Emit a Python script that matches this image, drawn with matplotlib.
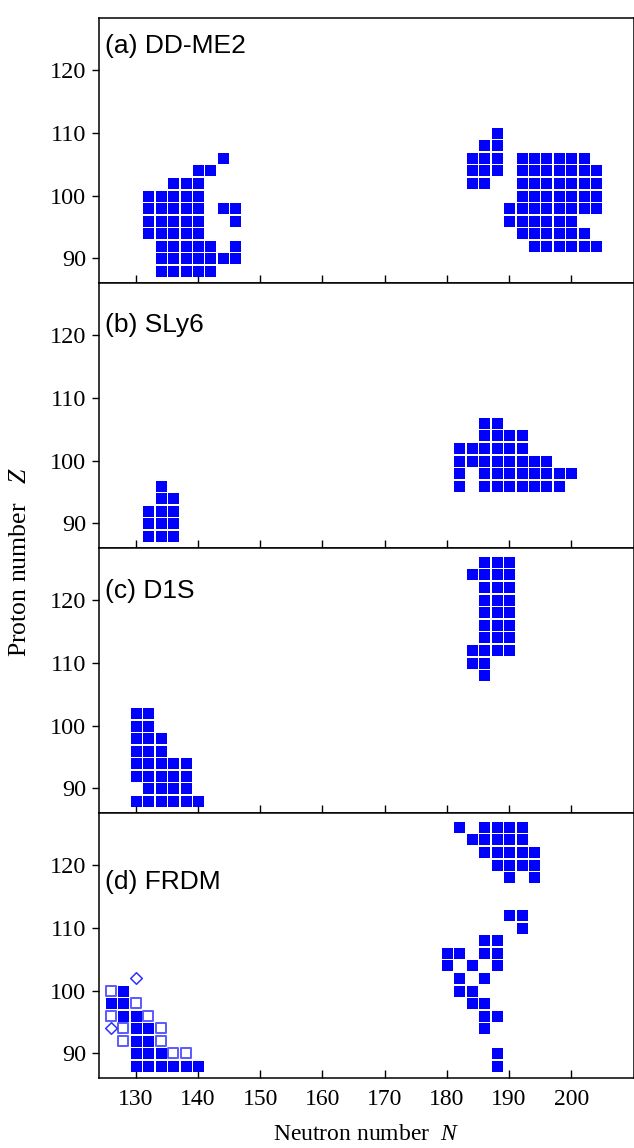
import matplotlib
matplotlib.use("Agg")
import matplotlib.pyplot as plt

# ---------------- data (N values per proton number Z) ----------------
panel_labels = ["(a) DD-ME2", "(b) SLy6", "(c) D1S", "(d) FRDM"]

ddme2_rows = {
    110: [188],
    108: [186, 188],
    106: [144, 184, 186, 188, 192, 194, 196, 198, 200, 202],
    104: [140, 142, 184, 186, 188, 192, 194, 196, 198, 200, 202, 204],
    102: [136, 138, 140, 184, 186, 192, 194, 196, 198, 200, 202, 204],
    100: [132, 134, 136, 138, 140, 192, 194, 196, 198, 200, 202, 204],
    98: [132, 134, 136, 138, 140, 144, 146, 190, 192, 194, 196, 198, 200, 202, 204],
    96: [132, 134, 136, 138, 140, 146, 190, 192, 194, 196, 198, 200],
    94: [132, 134, 136, 138, 140, 192, 194, 196, 198, 200, 202],
    92: [134, 136, 138, 140, 142, 146, 194, 196, 198, 200, 202, 204],
    90: [134, 136, 138, 140, 142, 144, 146],
    88: [134, 136, 138, 140, 142],
}

sly6_rows = {
    106: [186, 188],
    104: [186, 188, 190, 192],
    102: [182, 184, 186, 188, 190, 192],
    100: [182, 184, 186, 188, 190, 192, 194, 196],
    98: [182, 186, 188, 190, 192, 194, 196, 198, 200],
    96: [134, 182, 186, 188, 190, 192, 194, 196, 198],
    94: [134, 136],
    92: [132, 134, 136],
    90: [132, 134, 136],
    88: [132, 134, 136],
}

d1s_rows = {
    126: [186, 188, 190],
    124: [184, 186, 188, 190],
    122: [186, 188, 190],
    120: [186, 188, 190],
    118: [186, 188, 190],
    116: [186, 188, 190],
    114: [186, 188, 190],
    112: [184, 186, 188, 190],
    110: [184, 186],
    108: [186],
    102: [130, 132],
    100: [130, 132],
    98: [130, 132, 134],
    96: [130, 132, 134],
    94: [130, 132, 134, 136, 138],
    92: [130, 132, 134, 136, 138],
    90: [132, 134, 136, 138],
    88: [130, 132, 134, 136, 138, 140],
}

frdm_rows = {
    126: [182, 186, 188, 190, 192],
    124: [184, 186, 188, 190, 192],
    122: [186, 188, 190, 192, 194],
    120: [188, 190, 192, 194],
    118: [190, 194],
    112: [190, 192],
    110: [192],
    108: [186, 188],
    106: [180, 182, 186, 188],
    104: [180, 184, 188],
    102: [182, 186],
    100: [128, 182, 184],
    98: [126, 128, 184, 186],
    96: [128, 130, 186, 188],
    94: [130, 132, 186],
    92: [130, 132],
    90: [130, 132, 134, 188],
    88: [130, 132, 134, 136, 138, 140, 188],
}

# FRDM open squares and diamonds
frdm_open_N = [126, 130, 126, 132, 128, 134, 128, 134, 136, 138]
frdm_open_Z = [100, 98, 96, 96, 94, 94, 92, 92, 90, 90]
frdm_diamond_N = [130, 126]
frdm_diamond_Z = [102, 94]

x_ticks = [130, 140, 150, 160, 170, 180, 190, 200]
y_ticks = [90, 100, 110, 120]
label_Z = [123.8, 121.6, 121.4, 117.3]


def expand(rows):
    ns, zs = [], []
    for z, nlist in rows.items():
        for n in nlist:
            ns.append(n)
            zs.append(z)
    return ns, zs


# ---------------- styling ----------------
plt.rcParams["font.family"] = ["Liberation Serif", "DejaVu Serif"]
plt.rcParams["mathtext.fontset"] = "custom"
plt.rcParams["mathtext.rm"] = "Liberation Serif"
plt.rcParams["mathtext.it"] = "Liberation Serif:italic"

W, H = 634, 1148
fig = plt.figure(figsize=(W / 100, H / 100), dpi=100)

left_px, right_px = 98.5, 633.5
top_px, bot_px = 18, 1078
ph = (bot_px - top_px) / 4.0

blue = "#0000ff"
sq_side_pt = 11 * 0.72

all_rows = [ddme2_rows, sly6_rows, d1s_rows, frdm_rows]
axes = []
for i, rows in enumerate(all_rows):
    y0 = top_px + i * ph
    ax = fig.add_axes([left_px / W, 1 - (y0 + ph) / H,
                       (right_px - left_px) / W, ph / H])
    axes.append(ax)
    ns, zs = expand(rows)
    ax.scatter(ns, zs, marker="s", s=sq_side_pt ** 2, c=blue,
               linewidths=0, zorder=3)
    if i == 3:
        ax.scatter(frdm_open_N, frdm_open_Z, marker="s",
                   s=(9.4 * 0.72) ** 2, facecolors="white",
                   edgecolors="#5a5aff", linewidths=1.4, zorder=3)
        ax.scatter(frdm_diamond_N, frdm_diamond_Z, marker="D",
                   s=(8.2 * 0.72) ** 2, facecolors="white",
                   edgecolors="#3030ff", linewidths=1.1, zorder=3)
    ax.set_xlim(124, 210)
    ax.set_ylim(86.1, 128.2)
    ax.set_xticks(x_ticks)
    ax.set_yticks(y_ticks)
    ax.tick_params(axis="x", direction="in", length=6, width=1.0,
                   labelsize=17, pad=8)
    ax.tick_params(axis="y", direction="out", length=5, width=1.0,
                   labelsize=17.5, pad=4)
    if i < 3:
        ax.tick_params(axis="x", labelbottom=False)
    for sp in ax.spines.values():
        sp.set_linewidth(1.1)
    ax.text(125.0, label_Z[i], panel_labels[i], fontsize=19,
            family=["Liberation Sans", "DejaVu Sans"], va="center",
            ha="left", zorder=4)

fig.text(20 / W, 1 - 562 / H, r"Proton number   $Z$",
         rotation=90, ha="center", va="center", fontsize=18.5)
fig.text(((left_px + right_px) / 2) / W, 1 - 1135 / H, r"Neutron number  $N$",
         ha="center", va="center", fontsize=17)

fig.savefig("out.png", dpi=100)
